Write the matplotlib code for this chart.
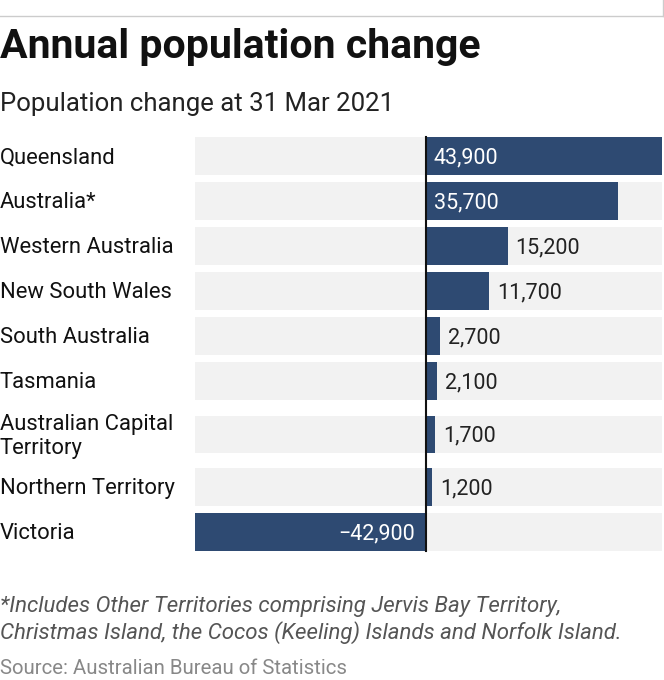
import matplotlib
matplotlib.use("Agg")
import matplotlib.pyplot as plt
from matplotlib.transforms import blended_transform_factory

categories = ["Queensland", "Australia*", "Western Australia", "New South Wales",
              "South Australia", "Tasmania", "Australian Capital\nTerritory",
              "Northern Territory", "Victoria"]
values = [43900, 35700, 15200, 11700, 2700, 2100, 1700, 1200, -42900]
value_labels = ["43,900", "35,700", "15,200", "11,700", "2,700", "2,100",
                "1,700", "1,200", "\u221242,900"]
inside = [True, True, False, False, False, False, False, False, True]

# row centres in pixels (layout)
row_y = [156, 201, 246, 291, 336, 381, 434.5, 487, 532]

W, H = 664, 680
fig = plt.figure(figsize=(W / 100, H / 100), dpi=100)
plt.rcParams['font.family'] = ['Roboto', 'DejaVu Sans']

bar_color = "#2e4a72"
bg_color = "#f2f2f2"

ax_top, ax_bot = 130, 560
ax = fig.add_axes([195 / W, 1 - ax_bot / H, (662 - 195) / W, (ax_bot - ax_top) / H])
xmin, xmax = min(values), max(values)
ax.set_xlim(xmin, xmax)
ax.set_ylim(ax_bot, ax_top)
ax.axis("off")

bh = 37.5
ax.barh(row_y, [xmax - xmin] * len(values), left=xmin, height=bh, color=bg_color, zorder=1)
ax.barh(row_y, values, height=bh, color=bar_color, zorder=2)
ax.plot([0, 0], [row_y[0] - bh / 2, row_y[-1] + bh / 2], color="#111111", lw=1.5, zorder=3)

span = xmax - xmin
pad = span * 8 / 467
vfs = 15.5
dy = 1.8
for y, v, lab, ins in zip(row_y, values, value_labels, inside):
    if ins:
        if v >= 0:
            ax.text(pad, y + dy, lab, color="white", va="center", ha="left", fontsize=vfs, zorder=4)
        else:
            ax.text(-pad * 1.3, y + dy, lab, color="white", va="center", ha="right", fontsize=vfs, zorder=4)
    else:
        ax.text(v + pad, y + dy, lab, color="#222222", va="center", ha="left", fontsize=vfs, zorder=4)

tr = blended_transform_factory(fig.transFigure, ax.transData)
for y, c in zip(row_y, categories):
    ax.text(0.0, y + dy, c, transform=tr, ha="left", va="center", fontsize=15.8,
            color="#111111", linespacing=1.2)

def fy(px):
    return 1 - px / H

fig.text(0, fy(47), "Annual population change", fontsize=29.5, fontweight="bold",
         ha="left", va="center", color="#111111")
fig.text(0, fy(104), "Population change at 31 Mar 2021", fontsize=18.5,
         ha="left", va="center", color="#222222")
fig.text(0, fy(620), "*Includes Other Territories comprising Jervis Bay Territory,\n"
         "Christmas Island, the Cocos (Keeling) Islands and Norfolk Island.",
         fontsize=16, style="italic", ha="left", va="center", color="#555555",
         linespacing=1.25)
fig.text(0, fy(668), "Source: Australian Bureau of Statistics", fontsize=14.7,
         ha="left", va="center", color="#888888")

fig.add_artist(plt.Line2D([0, 1], [fy(16), fy(16)], transform=fig.transFigure,
                          color="#cccccc", lw=1))
fig.add_artist(plt.Line2D([662.5 / W, 662.5 / W], [fy(16), 1], transform=fig.transFigure,
                          color="#cccccc", lw=1))

fig.savefig("out.png", dpi=100)
